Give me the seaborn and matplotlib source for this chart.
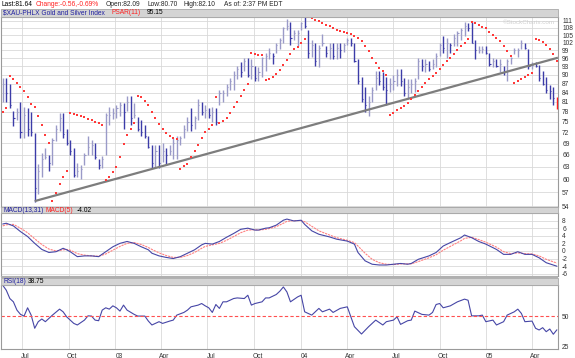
import numpy as np
import pandas as pd
import matplotlib
matplotlib.use("Agg")
import matplotlib.pyplot as plt
import matplotlib.dates as mdates
import matplotlib.transforms as mtrans
from matplotlib.ticker import FixedLocator, FixedFormatter, NullLocator
from matplotlib.patches import Rectangle
import seaborn as sns

sns.set_style("white")
plt.rcParams["font.family"] = ["Liberation Sans", "DejaVu Sans"]

# ---------------- data ----------------
start_date = "2002-05-24"   # first weekly bar (Friday)
bar_high = [88.8, 89, 87, 78.3, 79, 81, 79.5, 79, 78, 71.7, 63.7, 66.5, 67.7, 65.8, 70.4, 74, 77.5, 77.5, 73, 70,
            67.7, 64, 63.4, 66.5, 71, 69.8, 69, 64.8, 65.7, 77.5, 79.5, 79, 80, 81, 80.7, 83, 83, 80.7, 76.4, 75.4,
            74, 71, 68.6, 68.4, 68.6, 69, 67.7, 68.4, 70.4, 71, 71, 74, 76.4, 79, 76.7, 82, 81, 80, 79, 79.5,
            79, 85, 85, 86.8, 89, 91.4, 93, 94.5, 96, 96, 95.6, 93, 92.7, 96.5, 98, 100, 98, 102, 104, 108.5,
            112, 110.6, 107.3, 107.3, 110.6, 112.7, 107.3, 103.2, 101.7, 101, 105.5, 100.5, 101.7, 101.7, 102, 101.7, 102, 104, 104, 102,
            95.6, 89.3, 86, 83, 86, 91.4, 91.4, 91, 89.3, 89, 90, 92, 92, 89, 88.5, 88.5, 89, 96, 95.6, 95.6,
            95, 95.6, 98, 102, 104.6, 104, 102, 105.5, 106.6, 108, 110.6, 110, 110.6, 103.2, 100.5, 100.5, 100.5, 98, 96, 95.6,
            95.6, 93, 95.6, 96.5, 100, 100, 103.2, 102, 99.6, 94.5, 94.5, 93.5, 91.5, 89.3, 86.5, 86, 82.6]
bar_low = [81, 81, 79, 73.7, 75.5, 70.4, 70.4, 71, 71, 55, 56.6, 60.4, 64.8, 62, 63.5, 69.7, 72.3, 70.4, 68.5, 66,
           60.4, 60.4, 60, 63.5, 66, 65.8, 65, 62.5, 62.7, 66, 74, 75.7, 76, 76.6, 73, 78.3, 74, 76, 72.3, 71,
           70.4, 67.7, 62.7, 62.7, 62.7, 64.2, 63.5, 65.8, 65, 65, 68.4, 70.4, 72.3, 72.3, 73, 75.5, 77, 76, 76, 75,
           74, 80, 81, 83, 85, 85, 88.5, 89.3, 91.4, 89.3, 88.5, 88, 88, 89.3, 91.4, 95.6, 94, 98, 99.6, 101.7,
           107.3, 101, 103.2, 100.5, 107.3, 108, 96, 96.5, 93, 92.7, 100.5, 96.5, 95.6, 95.6, 95.6, 96, 98.5, 101, 100.5, 94.5,
           87, 81, 78, 76.7, 81, 85, 86.5, 85, 80, 84.2, 85, 86.3, 86.3, 83, 82, 83.8, 84.2, 88.5, 91.4, 91,
           91.4, 92, 92.7, 97, 98, 96, 98, 100.5, 100.5, 103.2, 104.6, 106.6, 101.7, 95.6, 98, 98, 97.5, 93, 92.7, 92.7,
           91, 90, 88, 94, 97.5, 96.5, 99.6, 99.6, 92, 92, 92.7, 88, 86.5, 84, 82, 80, 78.9]
bar_close = [87, 84, 80, 76, 78, 72, 77, 73, 72, 58, 62, 65, 65.5, 64, 70, 73, 76, 71.5, 69, 67,
             61, 62, 62.5, 66, 68, 68.5, 65.5, 63.5, 65, 77, 77, 77.5, 79, 80, 78, 81, 76, 77, 73, 72,
             71, 68, 64, 67, 64, 67, 66, 67, 69, 70, 70.5, 73, 75, 74, 76, 80, 78, 78.5, 77, 78,
             75, 84, 84, 86, 88, 90, 92, 91, 95, 90, 93, 89, 91, 96, 97, 98, 97, 101, 103, 108,
             109, 104, 106, 106, 110, 109, 98, 101, 95, 100, 102, 98, 100, 97, 100, 99, 101, 103, 102, 95,
             88, 82, 80, 81, 85, 89, 88, 86, 85, 87, 88, 90, 88, 84, 86, 87, 88, 95, 93, 94,
             92, 94, 97, 101, 100, 102, 101, 104, 106, 107, 109, 108, 102, 99, 99, 99.5, 98, 94, 95, 93,
             94, 91, 95, 96, 99, 99, 102, 100, 93, 93.5, 93, 89, 87, 85, 84.5, 82.2, 81.64]

psar = [78, 79, 89.5, 88.5, 87.2, 86, 84.5, 82.6, 80.5, 79.3, 76.6, 74, 71.3, 69, 55.2, 56.8, 58.8, 60.6, 61.9, 77.5,
        77.3, 77, 76.7, 76.3, 75.9, 75.5, 75, 74.6, 74.2, 59.7, 60.4, 61.6, 63, 65.3, 68.8, 71.2, 73, 74.5, 83, 82.5,
        81.2, 80.2, 78, 76, 74.3, 73, 71.8, 71, 70.5, 70.2, 62.5, 63.1, 63.7, 65.5, 67, 68.4, 70.5, 72, 73, 74,
        82.5, 74.5, 75.2, 76.2, 77.5, 79.5, 81, 83, 85, 87, 97.8, 97.6, 97.4, 97.2, 88.2, 88.6, 89.3, 90.3, 91.8, 93.5,
        95.5, 97.5, 99.5, 100.2, 102, 103.5, 112.7, 112.1, 111.5, 110.8, 110.1, 109.4, 108.7, 108, 107.3, 106.7, 106.2, 105.7, 105.3, 104.8,
        103.8, 102.5, 100.5, 98.6, 96.2, 94.3, 92.5, 91.5, 90, 77, 77.7, 78.4, 79, 79.8, 80.6, 82, 83.1, 84.5, 85.7, 87.2,
        88.5, 89.5, 90.5, 92, 93.5, 95, 96.2, 97.5, 99, 100.5, 102, 103.5, 110.7, 110, 109.3, 108.6, 107.9, 106.5, 105.2, 103.8,
        102.5, 100.6, 98.6, 97, 87.2, 87.8, 88.5, 89.3, 90, 90.7, 103.5, 103, 102.3, 101, 99.5, 97.5, 95.15]

trend_dates = ["2002-07-26", "2005-05-22"]
trend_vals = [55.1, 96.2]

macd_week = [0, 1, 3, 5, 7, 9, 11, 13, 15, 17, 18, 19, 21, 23, 25, 27, 29, 31, 33, 35, 37, 39, 41, 42, 44, 46, 48,
             50, 52, 54, 56, 57, 59, 61, 63, 65, 67, 69, 71, 72, 74, 75, 77, 79, 80, 82, 84, 85, 87, 89, 92, 94,
             97, 99, 100, 102, 104, 106, 108, 110, 112, 114, 115, 117, 120, 122, 124, 126, 129, 130, 132, 134, 136,
             139, 141, 143, 145, 147, 149, 151, 153, 156]
macd_line = [7.1, 7.3, 6.6, 5.1, 3.8, 2.0, 0.4, -0.4, -0.2, 0.7, 0.3, -0.2, -1.5, -1.3, -1.3, -1.5, -0.2, 1.1, 2.0,
             2.5, 2.0, 1.1, 0.3, -0.6, -1.3, -1.7, -2.0, -1.5, -0.6, 0.3, 1.6, 2.0, 1.8, 2.5, 3.6, 4.6, 5.7, 6.0,
             5.5, 5.5, 6.0, 6.1, 6.8, 8.1, 8.4, 7.9, 8.1, 7.0, 5.3, 4.4, 3.7, 3.1, 2.6, 1.8, -0.4, -2.6, -3.5,
             -3.7, -3.7, -3.5, -3.3, -3.5, -3.3, -2.2, -1.3, -0.4, 1.3, 2.2, 3.5, 4.2, 3.5, 2.5, 1.8, 0.4, -0.9,
             -0.9, -0.2, -0.9, -0.9, -1.8, -3.1, -4.02]
macd_signal = [6.6, 6.9, 7.0, 6.0, 4.8, 3.2, 1.7, 0.5, 0.0, 0.3, 0.4, 0.2, -0.7, -1.1, -1.3, -1.4, -0.8, 0.2, 1.2,
               2.0, 2.2, 1.7, 0.9, 0.4, -0.5, -1.2, -1.7, -1.7, -1.2, -0.4, 0.7, 1.2, 1.6, 2.0, 2.8, 3.8, 4.8, 5.5,
               5.6, 5.5, 5.7, 5.9, 6.4, 7.3, 7.8, 8.0, 8.0, 7.7, 6.5, 5.3, 4.2, 3.5, 2.8, 2.2, 1.3, -0.6, -2.2,
               -3.1, -3.5, -3.6, -3.4, -3.4, -3.4, -2.8, -1.8, -1.0, 0.2, 1.2, 2.7, 3.3, 3.6, 3.0, 2.3, 1.0, -0.2,
               -0.7, -0.5, -0.7, -0.8, -1.3, -2.2, -3.2]

rsi_week = [0, 1, 2, 3, 4, 5, 6, 7, 8, 9, 10, 11, 12, 14, 16, 17, 18, 20, 21, 23, 24, 25, 26, 27, 28, 29, 30, 31, 32,
            33, 34, 35, 37, 38, 40, 41, 42, 44, 45, 47, 48, 49, 51, 52, 53, 55, 56, 57, 58, 59, 60, 61, 62, 63, 65,
            66, 68, 69, 70, 71, 73, 74, 75, 77, 78, 79, 80, 81, 83, 84, 85, 87, 89, 90, 92, 93, 95, 97, 98, 99, 101,
            103, 105, 107, 108, 110, 111, 112, 114, 115, 116, 118, 120, 121, 122, 123, 124, 126, 128, 130, 131, 132,
            134, 135, 136, 138, 139, 141, 142, 144, 145, 146, 147, 149, 150, 151, 152, 153, 154, 155, 156]
rsi_val = [75.3, 71.2, 64.4, 61.7, 54.9, 51.4, 50, 56.8, 50.8, 40, 45.4, 47.6, 45.4, 50.8, 55.7, 53.5, 49.4, 44, 42.7,
           46.7, 50.2, 50, 46.7, 46.2, 54.9, 56.8, 55.7, 58.4, 56.8, 54.1, 59, 54.9, 51.4, 50, 50, 45.9, 42.7, 45.4,
           44, 45.9, 46.7, 50.8, 53, 54.9, 57.6, 59, 60.3, 58.4, 56.8, 53, 59.5, 56.3, 61.7, 61.7, 64.4, 64.9, 64.4,
           67.1, 59, 60.3, 61.7, 64.9, 64.9, 67.7, 70.4, 73.9, 69.8, 61.7, 65.7, 67.1, 53.5, 50.8, 56.3, 53.5, 55.7,
           53, 56.3, 57.6, 49.4, 41.3, 35.3, 41.3, 46.7, 42.7, 45.4, 46.7, 49.4, 43.2, 46.2, 46.7, 54.1, 51.4, 50.8,
           53, 59.5, 60.3, 56.8, 58.4, 61.7, 63.9, 63, 50.2, 50.2, 50.8, 45.4, 46.7, 42.7, 45.4, 50.8, 53.5, 55.7,
           52.2, 45.4, 45.9, 40, 38.6, 40.5, 37.2, 39.4, 35.1, 38.75]

price_ticks = [54, 57, 60, 63, 66, 69, 72, 75, 78, 81, 84, 87, 90, 93, 96, 99, 102, 105, 108, 111]
macd_ticks = [8, 6, 4, 2, 0, -2, -4, -6]
rsi_ticks = [50, 25]
month_dates = ["2002-07-01", "2002-10-01", "2003-01-01", "2003-04-01", "2003-07-01", "2003-10-01",
               "2004-01-01", "2004-04-01", "2004-07-01", "2004-10-01", "2005-01-01", "2005-04-01"]
month_labels = ["Jul", "Oct", "03", "Apr", "Jul", "Oct", "04", "Apr", "Jul", "Oct", "05", "Apr"]

# ---------------- derived frames ----------------
t0 = pd.Timestamp(start_date)
n = len(bar_high)
bars = pd.DataFrame({"date": t0 + pd.to_timedelta(7 * np.arange(n), unit="D"),
                     "high": bar_high, "low": bar_low, "close": bar_close, "psar": psar})
bars["x"] = mdates.date2num(bars["date"])
macd_df = pd.DataFrame({"x": mdates.date2num(t0 + pd.to_timedelta(7 * np.array(macd_week), unit="D")),
                        "macd": macd_line, "signal": macd_signal})
rsi_df = pd.DataFrame({"x": mdates.date2num(t0 + pd.to_timedelta(7 * np.array(rsi_week), unit="D")),
                       "rsi": rsi_val})
grid_x = mdates.date2num(pd.to_datetime(month_dates))
xlim = (mdates.date2num(pd.Timestamp("2002-05-20 14:00")), mdates.date2num(pd.Timestamp("2005-05-22 05:00")))

# ---------------- figure ----------------
W, H = 575, 358
fig = plt.figure(figsize=(W / 100, H / 100), dpi=100, facecolor="white")


def rect(x0, y0, x1, y1):
    return [x0 / W, 1 - y1 / H, (x1 - x0) / W, (y1 - y0) / H]


GRID = "#d9d9d9"
SPINE = "#9a9a9a"
BLUE_D = "#3c3ca8"
BLUE_L = "#9a9ac8"
FS = 4.8


def style_axes(ax):
    for s in ax.spines.values():
        s.set_color(SPINE)
        s.set_linewidth(0.8)
    ax.set_xlim(*xlim)
    ax.xaxis.set_major_locator(FixedLocator(grid_x))
    ax.tick_params(axis="x", length=0, labelbottom=False)
    ax.yaxis.tick_right()
    ax.tick_params(axis="y", length=0, labelsize=FS, pad=3, colors="#333333")
    ax.grid(True, color=GRID, lw=0.6)
    ax.set_axisbelow(True)
    ax.set_xlabel("")
    ax.set_ylabel("")


# header bars
for (y0, y1) in [(9, 17), (207, 213), (278, 285)]:
    fig.patches.append(Rectangle((1 / W, 1 - y1 / H), 557 / W, (y1 - y0) / H, transform=fig.transFigure,
                                 facecolor="#d4d4d4", edgecolor="#a8a8a8", lw=0.6, zorder=0))
fig.patches.append(Rectangle((1 / W, 1 - 277.5 / H), 557 / W, 1.5 / H, transform=fig.transFigure,
                             facecolor="#b0b0b0", edgecolor="none", zorder=0))

# top line text
ty = 1 - 4.5 / H
fig.text(2 / W, ty, "Last:81.64", fontsize=FS, va="center", color="black")
fig.text(36 / W, ty, "Change:-0.56,-0.69%", fontsize=FS, va="center", color="#ff2020")
fig.text(106 / W, ty, "Open:82.09", fontsize=FS, va="center")
fig.text(147 / W, ty, "Low:80.70", fontsize=FS, va="center")
fig.text(184 / W, ty, "High:82.10", fontsize=FS, va="center")
fig.text(224 / W, ty, "As of: 2:37 PM EDT", fontsize=FS, va="center")

hy = 1 - 13 / H
fig.text(3 / W, hy, "$XAU-PHLX Gold and Silver Index", fontsize=FS, va="center", color="#2020a0")
fig.text(111 / W, hy, "PSAR(11)", fontsize=FS, va="center", color="#ff2020")
fig.text(147 / W, hy, "95.15", fontsize=FS, va="center", color="black")

my = 1 - 210 / H
fig.text(4 / W, my, "MACD(13,31)", fontsize=FS, va="center", color="#2020a0")
fig.text(45 / W, my, "MACD(5)", fontsize=FS, va="center", color="#ff2020")
fig.text(77 / W, my, "-4.02", fontsize=FS, va="center", color="black")

ry = 1 - 281.5 / H
fig.text(3 / W, ry, "RSI(18)", fontsize=FS, va="center", color="#2020a0")
fig.text(28 / W, ry, "38.75", fontsize=FS, va="center", color="black")

# ---------------- price panel ----------------
ax = fig.add_axes(rect(1, 17, 558, 207))
ax.set_yscale("log")
style_axes(ax)
ax.set_ylim(53.85, 112.7)
ax.yaxis.set_major_locator(FixedLocator(price_ticks))
ax.yaxis.set_major_formatter(FixedFormatter([str(v) for v in price_ticks]))
ax.yaxis.set_minor_locator(NullLocator())

prev = np.r_[bars["close"].iloc[0], bars["close"].values[:-1]]
cols = np.where(bars["close"].values >= prev, BLUE_L, BLUE_D).astype(object)
cols[-1] = "#ff2020"
ax.vlines(bars["x"], bars["low"], bars["high"], colors=list(cols), lw=1.0, zorder=3)
ax.hlines(bars["close"], bars["x"], bars["x"] + 2.2, colors=list(cols), lw=0.8, zorder=3)
ax.plot(mdates.date2num(pd.to_datetime(trend_dates)), trend_vals, color="#7d7d7d", lw=1.6,
        solid_capstyle="butt", zorder=4)
sns.scatterplot(data=bars, x="x", y="psar", ax=ax, color="#ff3a3a", s=2.2, linewidth=0, marker="s", zorder=5)
ax.set_xlabel("")
ax.set_ylabel("")
ax.text(0.995, 0.985, "©StockCharts.com", transform=ax.transAxes, ha="right", va="top",
        fontsize=4.5, color="#d0d0d0")

# ---------------- MACD panel ----------------
axm = fig.add_axes(rect(1, 213, 558, 276))
sns.lineplot(data=macd_df, x="x", y="signal", ax=axm, color="#ff8080", lw=0.8, linestyle=(0, (2, 0.8)))
sns.lineplot(data=macd_df, x="x", y="macd", ax=axm, color="#4646a6", lw=0.8)
style_axes(axm)
axm.set_ylim(-6.6, 10.0)
axm.yaxis.set_major_locator(FixedLocator(macd_ticks))
axm.yaxis.set_major_formatter(FixedFormatter([str(v) for v in macd_ticks]))

# ---------------- RSI panel ----------------
axr = fig.add_axes(rect(1, 285, 558, 349))
sns.lineplot(data=rsi_df, x="x", y="rsi", ax=axr, color="#4646a6", lw=0.8)
style_axes(axr)
axr.grid(False, axis="y")
axr.set_ylim(23.0, 75.5)
axr.yaxis.set_major_locator(FixedLocator(rsi_ticks))
axr.yaxis.set_major_formatter(FixedFormatter([str(v) for v in rsi_ticks]))
axr.axhline(50, color="#ff5050", lw=0.8, ls=(0, (3, 2)))

trans = mtrans.blended_transform_factory(axr.transData, axr.transAxes)
for gx, lab in zip(grid_x, month_labels):
    axr.text(gx + 7, -0.055, lab, transform=trans, ha="center", va="top", fontsize=FS, color="#333333")

fig.savefig("out.png", dpi=100, facecolor="white")
